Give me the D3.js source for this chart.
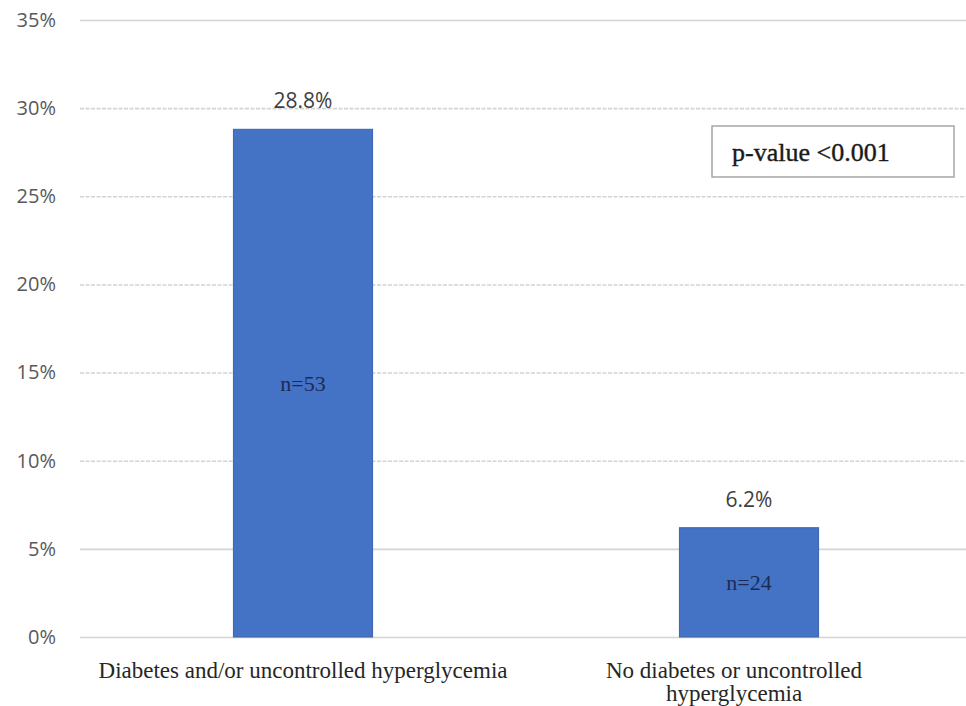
<!DOCTYPE html>
<html>
<head>
<meta charset="utf-8">
<script src="https://cdn.jsdelivr.net/npm/d3@7/dist/d3.min.js"></script>
<style>
  html, body { margin: 0; padding: 0; background: #ffffff; }
  svg { display: block; }
</style>
</head>
<body>
<svg id="chart" width="966" height="706"></svg>
<script>
// Share of patients per group
const categories = [
  ["Diabetes and/or uncontrolled hyperglycemia"],
  ["No diabetes or uncontrolled", "hyperglycemia"]
];
const categoryKeys = ["diabetes", "noDiabetes"];
const percentages = [0.288, 0.062];
const valueLabels = ["28.8%", "6.2%"];
const countLabels = ["n=53", "n=24"];
const tickValues = [0, 0.05, 0.10, 0.15, 0.20, 0.25, 0.30, 0.35];
const annotation = "p-value <0.001";

const svg = d3.select("#chart");
const W = 966;

const plot = { left: 80, right: 972, top: 20, bottom: 637 };

const x = d3.scaleBand()
  .domain(categoryKeys)
  .range([plot.left, plot.right])
  .paddingInner(0.688)
  .paddingOuter(0.344);

const y = d3.scaleLinear()
  .domain([0, 0.35])
  .range([plot.bottom, plot.top]);

// Gridlines + y tick labels
const yAxis = d3.axisLeft(y)
  .tickValues(tickValues)
  .tickFormat(d3.format(".0%"))
  .tickSize(-(W - plot.left))
  .tickPadding(24);

const gAxis = svg.append("g")
  .attr("transform", `translate(${plot.left},0)`)
  .call(yAxis);

gAxis.select(".domain").remove();
gAxis.selectAll(".tick line")
  .attr("stroke", "#d4d4d4")
  .attr("stroke-width", 1.6)
  .attr("stroke-dasharray", d => (d > 0.05 && d < 0.35) ? "4,1.5" : null);
gAxis.selectAll(".tick text")
  .attr("fill", "#595959")
  .style("font-family", "'Open Sans', 'Noto Sans', sans-serif")
  .style("font-size", "20px");

// Bars
const data = categoryKeys.map((k, i) => ({
  key: k, value: percentages[i], label: valueLabels[i], count: countLabels[i], lines: categories[i]
}));

svg.append("g").selectAll("rect")
  .data(data)
  .join("rect")
  .attr("x", d => x(d.key))
  .attr("y", d => y(d.value))
  .attr("width", x.bandwidth())
  .attr("height", d => y(0) - y(d.value))
  .attr("fill", "#4472c4")
  .attr("stroke", "#3b64b0")
  .attr("stroke-width", 1);

// Value labels above bars
svg.append("g").selectAll("text")
  .data(data)
  .join("text")
  .attr("x", d => x(d.key) + x.bandwidth() / 2)
  .attr("y", d => y(d.value) - 21)
  .attr("text-anchor", "middle")
  .attr("fill", "#404040")
  .style("font-family", "'Open Sans', 'Noto Sans', sans-serif")
  .style("font-size", "21px")
  .text(d => d.label);

// Counts inside bars
svg.append("g").selectAll("text")
  .data(data)
  .join("text")
  .attr("x", d => x(d.key) + x.bandwidth() / 2)
  .attr("y", d => (y(d.value) + y(0)) / 2)
  .attr("dy", "0.35em")
  .attr("text-anchor", "middle")
  .attr("fill", "#1c2b55")
  .style("font-family", "'Liberation Serif', 'Times New Roman', serif")
  .style("font-size", "22px")
  .text(d => d.count);

// Category labels
const cat = svg.append("g").selectAll("text")
  .data(data)
  .join("text")
  .attr("text-anchor", "middle")
  .attr("fill", "#262626")
  .style("font-family", "'Liberation Serif', 'Times New Roman', serif")
  .style("font-size", "23px");

cat.selectAll("tspan")
  .data(d => d.lines.map(t => ({ t, key: d.key, multi: d.lines.length > 1 })))
  .join("tspan")
  // wrapped labels sit slightly left of the band centre
  .attr("x", d => x(d.key) + x.bandwidth() / 2 - (d.multi ? 15 : 0))
  .attr("y", (d, i) => plot.bottom + 41 + i * 23)
  .text(d => d.t);

// p-value annotation box
const box = svg.append("g");
box.append("rect")
  .attr("x", 712).attr("y", 126)
  .attr("width", 242).attr("height", 51)
  .attr("fill", "#ffffff")
  .attr("stroke", "#a6a6a6")
  .attr("stroke-width", 1.5);
box.append("text")
  .attr("x", 732).attr("y", 161)
  .attr("fill", "#1a1a1a")
  .attr("stroke", "#1a1a1a")
  .attr("stroke-width", 0.4)
  .style("font-family", "'Liberation Serif', 'Times New Roman', serif")
  .style("font-size", "26px")
  .text(annotation);
</script>
</body>
</html>
